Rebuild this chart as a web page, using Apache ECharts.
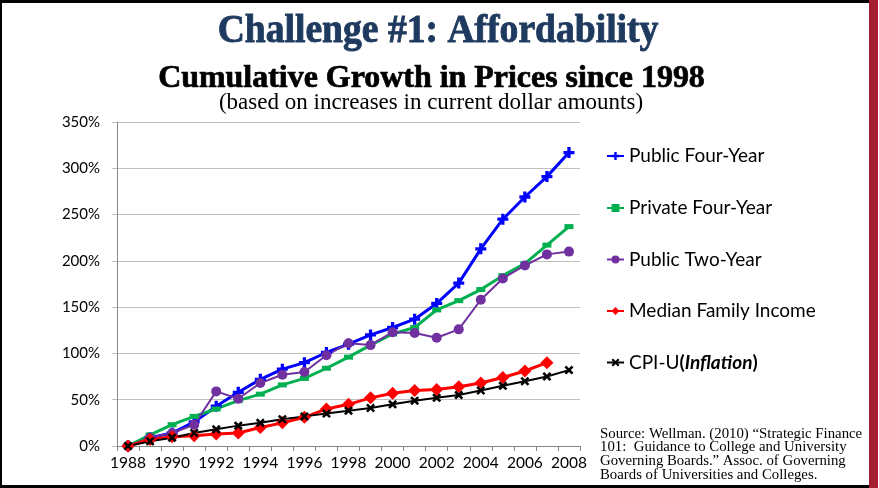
<!DOCTYPE html>
<html>
<head>
<meta charset="utf-8">
<script src="https://cdn.jsdelivr.net/npm/echarts@6/dist/echarts.min.js"></script>
<style>
  html, body { margin: 0; padding: 0; background: #fff; }
  #chart { width: 879px; height: 488px; }
</style>
</head>
<body>
<div id="chart"></div>
<script>
// Years on the category axis
const years = ['1988','1989','1990','1991','1992','1993','1994','1995','1996','1997','1998',
               '1999','2000','2001','2002','2003','2004','2005','2006','2007','2008'];

// Cumulative growth (%) since 1988
const publicFourYear  = [0, 9, 14, 26, 43, 58, 72, 83, 90, 101, 110, 120, 128, 137, 154, 176, 213, 245, 269, 291, 317];
const privateFourYear = [0, 12, 23, 32, 40, 49, 56, 66, 73, 84, 96, 109, 121, 128, 147, 157, 169, 184, 197, 217, 237];
const publicTwoYear   = [0, 9, 14, 23, 59, 51, 68, 77, 80, 98, 111, 109, 123, 122, 117, 126, 158, 181, 195, 207, 210];
const medianIncome    = [0, 7, 10, 11, 13, 14, 20, 25, 31, 40, 45, 52, 57, 60, 61, 64, 68, 74, 81, 90, null];
const cpiU            = [0, 5, 9, 14, 18, 22, 25, 29, 32, 35, 38, 41, 45, 49, 52, 55, 60, 65, 70, 75, 82];

// Y-axis range
const yMin = 0, yMax = 350, yStep = 50;

const seriesNames = ['Public Four-Year', 'Private Four-Year', 'Public Two-Year', 'Median Family Income', 'CPI-U'];

const plusPath = 'path://M3.5,0H6.5V3.5H10V6.5H6.5V10H3.5V6.5H0V3.5H3.5Z';
const crossPath = 'path://M0,2L2,0L5,3L8,0L10,2L7,5L10,8L8,10L5,7L2,10L0,8L3,5Z';

const chart = echarts.init(document.getElementById('chart'), null, { renderer: 'canvas' });

const uiFont = 'Lato, "Open Sans", sans-serif';

function legendAt(name, centerY) {
  return {
    data: [name],
    orient: 'vertical',
    left: 606,
    top: centerY - 11,
    padding: 0,
    itemWidth: 17,
    itemHeight: 10,
    selectedMode: false,
    textStyle: {
      fontFamily: uiFont,
      fontSize: 19,
      lineHeight: 22,
      color: '#000',
      rich: {
        p: { fontFamily: uiFont, fontSize: 19, fontWeight: 'bold', color: '#000' },
        i: { fontFamily: uiFont, fontSize: 19, fontWeight: 'bold', fontStyle: 'italic', color: '#000' },
        n: { fontFamily: uiFont, fontSize: 19, color: '#000' }
      }
    },
    formatter: function (n) {
      if (n === 'CPI-U') return '{n|CPI-U}{p|(}{i|Inflation}{p|)}';
      return n;
    }
  };
}

function lineSeries(name, data, color, width, symbol, size) {
  return {
    name: name,
    type: 'line',
    data: data,
    symbol: symbol,
    symbolSize: size,
    showSymbol: true,
    connectNulls: false,
    lineStyle: { color: color, width: width },
    itemStyle: { color: color, borderWidth: 0 },
    emphasis: { disabled: true },
    animation: false
  };
}

const option = {
  animation: false,
  backgroundColor: '#ffffff',
  grid: { left: 117, top: 122, width: 463, height: 324, containLabel: false },
  legend: [
    legendAt(seriesNames[0], 156),
    legendAt(seriesNames[1], 208),
    legendAt(seriesNames[2], 259.5),
    legendAt(seriesNames[3], 311),
    legendAt(seriesNames[4], 362.5)
  ],
  xAxis: {
    type: 'category',
    data: years,
    boundaryGap: true,
    axisLine: { show: true, lineStyle: { color: '#868686', width: 1 } },
    axisTick: { show: true, interval: 0, length: 5, lineStyle: { color: '#868686' } },
    axisLabel: { interval: 1, margin: 9, fontFamily: uiFont, fontSize: 15.5, color: '#000' },
    splitLine: { show: false }
  },
  yAxis: {
    type: 'value',
    min: yMin,
    max: yMax,
    interval: yStep,
    axisLine: { show: true, lineStyle: { color: '#868686', width: 1 } },
    axisTick: { show: true, length: 5, lineStyle: { color: '#BFBFBF' } },
    axisLabel: { formatter: '{value}%', margin: 17, fontFamily: uiFont, fontSize: 15, color: '#000' },
    splitLine: { show: true, lineStyle: { color: '#BFBFBF', width: 1 } }
  },
  series: [
    lineSeries(seriesNames[0], publicFourYear, '#0000FF', 3, plusPath, 11),
    lineSeries(seriesNames[1], privateFourYear, '#00B050', 3, 'rect', [9, 5]),
    lineSeries(seriesNames[2], publicTwoYear, '#7030A0', 2, 'circle', 10),
    lineSeries(seriesNames[3], medianIncome, '#FF0000', 3, 'diamond', 13),
    lineSeries(seriesNames[4], cpiU, '#000000', 2, crossPath, 9)
  ],
  graphic: [
    // Frame: black top/left/bottom rules, maroon band on the right
    { type: 'rect', shape: { x: 0, y: 0, width: 869, height: 3 }, style: { fill: '#000' }, z: 100 },
    { type: 'rect', shape: { x: 0, y: 0, width: 2, height: 488 }, style: { fill: '#000' }, z: 100 },
    { type: 'rect', shape: { x: 0, y: 485, width: 869, height: 3 }, style: { fill: '#000' }, z: 100 },
    { type: 'rect', shape: { x: 869, y: 0, width: 9, height: 488 }, style: { fill: '#A51D31' }, z: 100 },
    // Headings
    {
      type: 'text', x: 438, y: 32, z: 50, scaleX: 0.94,
      style: {
        text: 'Challenge #1: Affordability',
        fill: '#1F3A5F',
        stroke: '#1F3A5F', lineWidth: 0.9,
        font: 'bold 40px "Liberation Serif", serif',
        align: 'center', verticalAlign: 'middle'
      }
    },
    {
      type: 'text', x: 431.5, y: 78.5, z: 50, scaleX: 1.03,
      style: {
        text: 'Cumulative Growth in Prices since 1998',
        fill: '#000',
        stroke: '#000', lineWidth: 0.7,
        font: 'bold 31px "Liberation Serif", serif',
        align: 'center', verticalAlign: 'middle'
      }
    },
    {
      type: 'text', x: 431, y: 103, z: 50,
      style: {
        text: '(based on increases in current dollar amounts)',
        fill: '#000',
        font: '23px "Liberation Serif", serif',
        align: 'center', verticalAlign: 'middle'
      }
    },
    // Source note
    {
      type: 'text', x: 600, y: 427, z: 50,
      style: {
        text: 'Source: Wellman. (2010) \u201CStrategic Finance\n101:  Guidance to College and University\nGoverning Boards.\u201D Assoc. of Governing\nBoards of Universities and Colleges.',
        fill: '#000',
        font: '14.8px "Liberation Serif", serif',
        lineHeight: 13.7,
        align: 'left', verticalAlign: 'top'
      }
    }
  ]
};

chart.setOption(option);
</script>
</body>
</html>
